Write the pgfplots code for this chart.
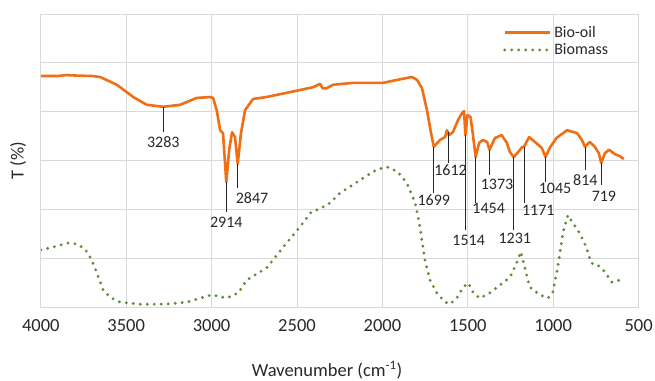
\documentclass[border=0pt]{standalone}
\usepackage{fontspec}
\setmainfont{Carlito}
\usepackage{pgfplots}
\pgfplotsset{compat=1.18}
\definecolor{oilorange}{RGB}{240,110,20}
\definecolor{biogreen}{RGB}{96,140,60}
\definecolor{gridgray}{RGB}{217,217,217}
\definecolor{txt}{RGB}{40,40,40}
\newcommand{\annot}{\fontsize{16}{19}\selectfont}
\newcommand{\lbl}[5]{%
  \draw[black!85, line width=0.9pt] (#1,#2) -- (#1,#3);
  \node[font=\annot, text=txt, inner sep=0pt] at (#4,#5) {#1};}
\begin{document}
\begin{tikzpicture}
\begin{axis}[
  name=ax,
  scale only axis,
  width=597.8pt, height=293pt,
  x dir=reverse,
  xmin=500, xmax=4000, ymin=0, ymax=6,
  xtick={500,1000,...,4000},
  ytick={0,1,...,6},
  yticklabels={},
  major tick length=0pt,
  grid=major,
  major grid style={draw=gridgray, line width=0.8pt},
  axis line style={draw=gridgray, line width=0.8pt},
  /pgf/number format/assume math mode=true,
  /pgf/number format/1000 sep={},
  xticklabel style={font=\fontsize{18.5}{22}\selectfont, text=txt, anchor=base, yshift=-25pt},
  xlabel={Wavenumber (cm\textsuperscript{-1})},
  xlabel style={font=\fontsize{18.5}{22}\selectfont, text=txt, at={(axis description cs:0.479,-0.215)}, anchor=center},
  ylabel={T (\%)},
  ylabel style={font=\fontsize{18.5}{22}\selectfont, text=txt, at={(axis description cs:-0.038,0.5)}, anchor=center},
  legend style={at={(axis description cs:0.773,0.968)}, anchor=north west, draw=none, fill=none,
    font=\fontsize{16}{19}\selectfont, text=txt, row sep=0pt, inner sep=0pt,
    nodes={inner xsep=3pt, inner ysep=2.5pt}},
  legend image code/.code={\draw[#1] (0pt,0pt) -- (45pt,0pt);},
  legend cell align=left,
]
\addplot[oilorange, line width=2.6pt, line join=round] coordinates {
(4000,4.73) (3900,4.73) (3850,4.75) (3800,4.74) (3700,4.73) (3653,4.71)
(3554,4.55) (3459,4.30) (3379,4.14) (3283,4.10) (3185,4.14) (3088,4.28)
(3009,4.30) (2991,4.28) (2970,4.03) (2950,3.62) (2933,3.56) (2914,2.56)
(2897,3.22) (2880,3.58) (2863,3.48) (2847,2.93) (2828,3.56) (2804,4.03)
(2757,4.26) (2679,4.30) (2541,4.40) (2406,4.50) (2365,4.57) (2350,4.48)
(2326,4.48) (2289,4.55) (2172,4.59) (1996,4.59) (1914,4.65) (1827,4.71)
(1797,4.65) (1768,4.48) (1739,4.03) (1715,3.56) (1699,3.28) (1663,3.42)
(1633,3.48) (1622,3.62) (1610,3.52) (1587,3.58) (1557,3.83) (1534,3.97)
(1522,4.01) (1514,3.52) (1502,3.93) (1484,3.89) (1471,3.56) (1454,3.07)
(1434,3.36) (1411,3.42) (1387,3.38) (1373,3.22) (1341,3.46) (1302,3.52)
(1271,3.36) (1253,3.17) (1231,3.07) (1206,3.17) (1180,3.28) (1171,3.28)
(1141,3.48) (1107,3.38) (1067,3.26) (1045,3.07) (1020,3.26) (981,3.46)
(919,3.62) (860,3.56) (832,3.42) (814,3.28) (786,3.38) (756,3.28)
(733,3.15) (719,2.95) (697,3.15) (673,3.22) (639,3.13) (610,3.09) (587,3.03)
};
\addlegendentry{Bio-oil}
\addplot[biogreen, line width=3.2pt, line cap=round, dash pattern=on 0pt off 7pt] coordinates {
(4000,1.17) (3946,1.21) (3840,1.31) (3789,1.29) (3741,1.19) (3701,0.96)
(3672,0.70) (3635,0.35) (3595,0.20) (3537,0.10) (3420,0.055) (3262,0.06)
(3146,0.10) (2999,0.25) (2912,0.18) (2843,0.29) (2795,0.55) (2678,0.80)
(2561,1.31) (2483,1.64) (2415,1.95) (2366,2.01) (2307,2.13) (2249,2.33)
(2131,2.60) (2034,2.81) (1973,2.87) (1910,2.77) (1857,2.54) (1808,2.13)
(1780,1.64) (1751,0.96) (1721,0.55) (1682,0.29) (1633,0.10) (1604,0.06)
(1565,0.18) (1526,0.41) (1497,0.49) (1468,0.29) (1429,0.18) (1371,0.29)
(1312,0.45) (1253,0.61) (1214,0.90) (1190,1.13) (1173,0.90) (1138,0.41)
(1079,0.25) (1031,0.18) (1002,0.31) (973,0.82) (943,1.52) (914,1.88)
(885,1.72) (846,1.52) (807,1.23) (778,0.90) (739,0.86) (698,0.72)
(657,0.51) (610,0.55)
};
\addlegendentry{Biomass}
\lbl{3283}{4.10}{3.58}{3283}{3.38}
\lbl{2914}{2.56}{1.95}{2914}{1.74}
\lbl{2847}{2.93}{2.44}{2763}{2.23}
\lbl{1699}{3.28}{2.33}{1699}{2.19}
\lbl{1612}{3.58}{2.95}{1601}{2.81}
\lbl{1514}{3.52}{1.58}{1495}{1.37}
\lbl{1454}{3.07}{2.13}{1378}{2.01}
\lbl{1373}{3.22}{2.70}{1329}{2.52}
\lbl{1231}{3.07}{1.58}{1225}{1.41}
\lbl{1171}{3.28}{2.13}{1087}{1.97}
\lbl{1045}{3.07}{2.56}{989}{2.42}
\lbl{814}{3.28}{2.81}{812}{2.60}
\lbl{719}{2.95}{2.50}{703}{2.27}
\end{axis}
\pgfresetboundingbox
\path[use as bounding box] ([shift={(-40.8pt,-74pt)}]ax.south west) rectangle ([shift={(16.4pt,14pt)}]ax.north east);
\end{tikzpicture}
\end{document}
